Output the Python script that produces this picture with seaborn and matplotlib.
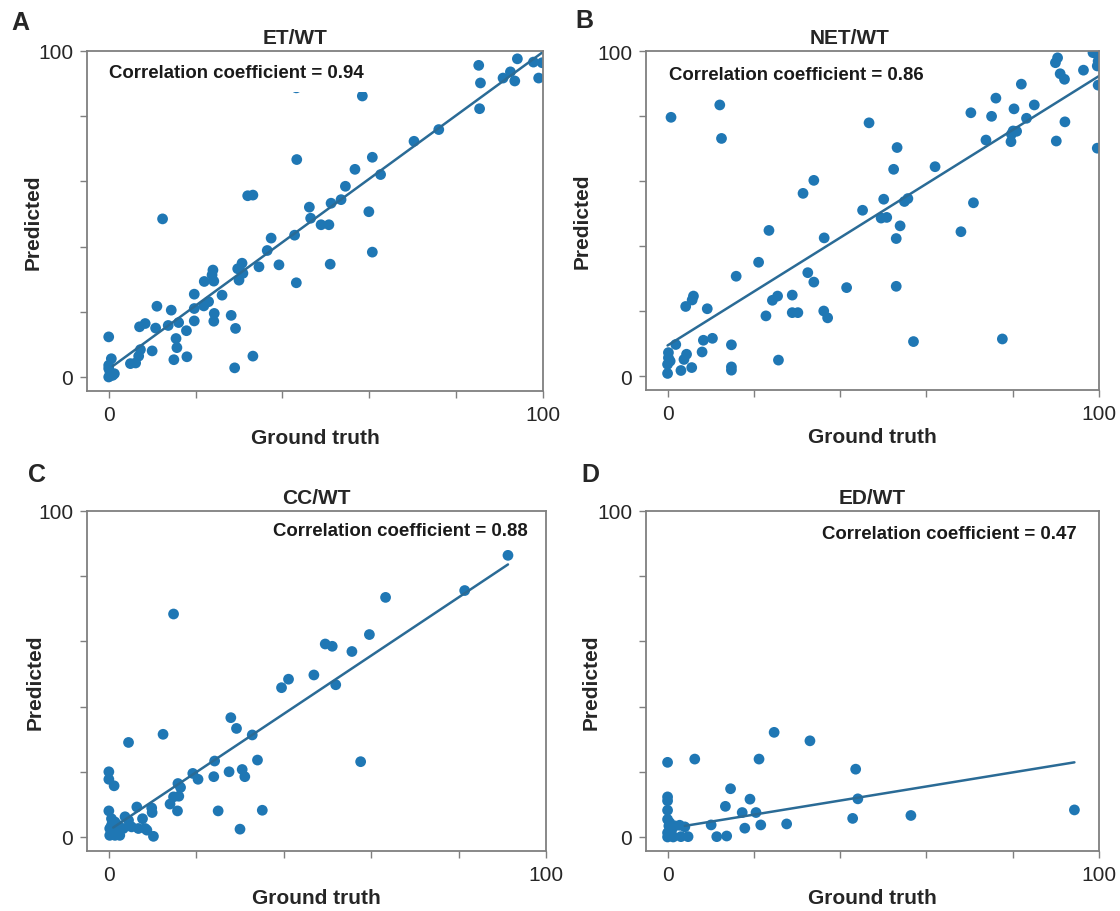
import seaborn as sns
import matplotlib.pyplot as plt

sns.set_style("white")
plt.rcParams['font.family'] = ['Liberation Sans', 'DejaVu Sans']

# panel A: ET/WT
et_truth = [85.2, 85.6, 85.4, 94.1, 92.5, 90.8, 93.5, 97.8, 99.8, 99.0, 43.2, 58.4, 76.0, 70.3,
            60.7, 43.3, 56.7, 62.6, 54.5, 53.5, 51.2, 59.9, 46.2, 46.5, 48.9, 50.7, 51.0, 60.7,
            42.8, 37.4, 36.5, 39.2, 34.6, 43.2, 32.0, 33.2, 12.4, 30.7, 29.7, 30.9, 30.0, 24.0,
            23.8, 24.2, 22.0, 26.1, 19.7, 19.7, 23.0, 21.9, 24.3, 24.2, 19.7, 28.2, 29.2, 29.0,
            33.2, 14.4, 11.1, 16.1, 13.7, 17.9, 15.5, 15.7, 15.0, 18.0, 10.8, 8.4, 7.1, 10.0,
            7.3, 6.9, 6.2, 5.0, 0.0, 0.6, 0.0, 0.3, 0.9, 0.0, 1.3, 0.0]
et_pred = [95.6, 90.2, 82.3, 97.6, 93.6, 91.7, 90.8, 96.6, 96.4, 91.7, 88.7, 86.2, 75.9, 72.3,
           67.4, 66.7, 63.7, 62.1, 58.5, 54.4, 53.3, 50.7, 52.1, 48.7, 46.7, 46.7, 34.6, 38.3,
           43.5, 42.6, 38.8, 34.4, 33.8, 28.9, 55.6, 55.8, 48.5, 34.9, 33.2, 31.8, 29.7, 32.8,
           31.3, 29.4, 29.3, 25.1, 25.4, 21.0, 23.1, 21.8, 19.5, 17.1, 17.2, 18.9, 14.9, 2.8,
           6.4, 20.5, 21.7, 16.7, 15.8, 14.2, 11.8, 9.0, 5.3, 6.2, 15.0, 16.4, 15.4, 8.0,
           8.4, 6.4, 4.3, 4.1, 12.3, 5.6, 3.6, 1.5, 0.5, 0.0, 1.0, 2.6]
et_fit_x = [0.9, 100.0]
et_fit_y = [3.3, 99.7]

# panel B: NET/WT
net_truth = [0.8, 12.1, 12.5, 46.7, 53.2, 52.4, 62.0, 33.9, 31.4, 50.1, 54.9, 55.7, 45.2, 49.5,
             50.8, 53.9, 53.0, 70.9, 68.0, 23.5, 36.3, 21.1, 15.9, 32.5, 33.9, 41.5, 53.0, 28.9,
             25.5, 24.3, 28.9, 30.2, 36.2, 37.1, 22.8, 6.0, 5.7, 4.2, 9.2, 10.4, 8.3, 8.0,
             1.9, 14.8, 4.4, 3.8, 5.6, 3.1, 14.8, 14.8, 25.7, 57.0, 77.6, 0.2, 0.2, 0.0,
             0.0, 0.6, 73.8, 70.3, 75.1, 76.1, 80.3, 82.0, 83.2, 85.0, 79.6, 79.7, 80.9, 80.1,
             90.1, 92.1, 89.9, 90.4, 91.0, 92.0, 96.4, 98.6, 99.6, 99.8, 99.6, 99.8, 99.6]
net_pred = [79.6, 83.4, 73.1, 77.9, 70.3, 63.6, 64.4, 60.2, 56.2, 54.4, 53.7, 54.6, 51.0, 48.6,
            48.8, 46.2, 42.3, 53.3, 44.4, 44.8, 42.5, 35.0, 30.7, 31.8, 28.9, 27.2, 27.6, 24.9,
            24.6, 23.3, 19.5, 19.5, 20.0, 17.9, 18.5, 24.6, 23.4, 21.4, 20.7, 11.6, 11.0, 7.4,
            9.7, 9.6, 6.7, 5.1, 2.6, 1.7, 2.8, 1.8, 4.9, 10.6, 11.4, 7.2, 5.6, 3.6,
            0.8, 4.6, 72.6, 81.0, 79.9, 85.5, 82.2, 89.8, 79.3, 83.4, 72.1, 74.4, 75.3, 75.4,
            72.3, 78.2, 96.4, 97.9, 93.0, 91.3, 94.1, 99.5, 99.0, 96.9, 95.4, 89.5, 70.1]
net_fit_x = [0.0, 100.0]
net_fit_y = [9.4, 92.3]

# panel C: CC/WT
cc_truth = [91.3, 81.4, 63.3, 59.6, 49.5, 51.1, 55.6, 46.9, 41.1, 39.5, 51.9, 14.8, 57.6, 27.9,
            29.2, 32.8, 12.4, 4.5, 34.0, 24.2, 27.5, 30.5, 31.1, 24.0, 20.4, 19.2, 15.8, 16.4,
            14.8, 16.0, 14.0, 15.7, 25.0, 35.1, 30.0, 0.0, 0.0, 1.2, 0.0, 6.4, 9.8, 9.9,
            7.7, 3.7, 4.5, 5.2, 6.75, 8.3, 10.2, 8.7, 0.6, 1.0, 0.2, 0.2, 1.8, 2.5,
            1.4, 2.1, 3.3, 0.6, 1.4]
cc_pred = [86.4, 75.6, 73.5, 62.1, 59.2, 58.5, 56.9, 49.7, 48.4, 45.8, 46.7, 68.4, 23.1, 36.6,
           33.3, 31.3, 31.5, 29.0, 23.6, 23.3, 20.0, 20.7, 18.5, 18.5, 17.7, 19.5, 16.4, 15.2,
           12.3, 12.5, 10.1, 8.0, 8.0, 8.2, 2.4, 20.0, 17.7, 15.7, 8.0, 9.2, 8.9, 7.5,
           5.6, 6.2, 5.1, 3.1, 2.6, 2.6, 0.2, 2.1, 5.6, 4.1, 2.6, 0.5, 2.1, 0.5,
           0.5, 3.6, 2.6, 3.6, 4.6]
cc_fit_x = [1.0, 91.3]
cc_fit_y = [2.9, 83.6]

# panel D: ED/WT
ed_truth = [24.7, 33.0, 0.0, 6.3, 21.2, 43.6, 14.6, 44.1, 0.0, 0.0, 0.0, 19.1, 13.4, 17.3,
            20.5, 21.6, 27.6, 17.9, 42.9, 56.4, 94.3, 10.1, 11.4, 13.7, 2.8, 4.0, 0.0, 0.3,
            0.0, 0.0, 1.3, 3.1, 4.75, 0.9, 0.5, 1.7]
ed_pred = [32.1, 29.5, 22.9, 23.9, 23.9, 20.8, 14.8, 11.7, 12.3, 11.1, 8.2, 11.6, 9.4, 7.5,
           7.5, 3.7, 4.0, 2.7, 5.7, 6.6, 8.3, 3.7, 0.1, 0.3, 3.6, 3.1, 5.4, 3.4,
           1.3, 0.0, 0.0, 0.1, 0.1, 1.8, 4.4, 3.4]
ed_fit_x = [4.0, 94.3]
ed_fit_y = [3.4, 22.9]

titles = ['ET/WT', 'NET/WT', 'CC/WT', 'ED/WT']
letters = ['A', 'B', 'C', 'D']
corr_labels = ['Correlation coefficient = 0.94', 'Correlation coefficient = 0.86',
               'Correlation coefficient = 0.88', 'Correlation coefficient = 0.47']
panels = [(et_truth, et_pred, et_fit_x, et_fit_y),
          (net_truth, net_pred, net_fit_x, net_fit_y),
          (cc_truth, cc_pred, cc_fit_x, cc_fit_y),
          (ed_truth, ed_pred, ed_fit_x, ed_fit_y)]

W, H = 1120, 912
fig = plt.figure(figsize=(11.2, 9.12), dpi=100)

# pixel boxes of the axes: left, top, right, bottom
boxes = [(87, 52, 543, 392), (646, 52, 1099, 391), (87, 512, 546, 852), (646, 512, 1099, 852)]
title_x = [0.456, 0.449, 0.5, 0.5]
ylabel_x = [-0.0965, -0.119, -0.0915, -0.0993]
text_pos = [(0.048, 0.938, 'left'), (0.05, 0.932, 'left'), (0.961, 0.944, 'right'), (0.95, 0.935, 'right')]
letter_pos = [(20, 23), (584, 21), (37, 475), (590, 475)]

dot_color = '#1f77b4'
line_color = '#2a6b96'
spine_color = '#7f7f7f'

for i, (truth, pred, fx, fy) in enumerate(panels):
    l, t, r, b = boxes[i]
    ax = fig.add_axes([l / W, 1 - b / H, (r - l) / W, (b - t) / H])
    sns.scatterplot(x=truth, y=pred, ax=ax, s=60, color=dot_color, edgecolor='none', zorder=2)
    sns.lineplot(x=fx, y=fy, ax=ax, color=line_color, lw=1.8, zorder=2.2)
    ax.set_xlim(-5, 100)
    ax.set_ylim(-4.3, 100)
    ax.set_xticks([0, 20, 40, 60, 80, 100])
    ax.set_xticklabels(['0', '', '', '', '', '100'])
    ax.set_yticks([0, 20, 40, 60, 80, 100])
    ax.set_yticklabels(['0', '', '', '', '', '100'])
    ax.tick_params(axis='both', direction='out', length=5, width=1, color=spine_color,
                   labelsize=15, pad=5, left=True, bottom=True)
    for s in ax.spines.values():
        s.set_color(spine_color)
        s.set_linewidth(1.3)
        s.set_zorder(3)
    ax.set_xlabel('Ground truth', fontsize=15, fontweight='bold', labelpad=3)
    ax.set_ylabel('Predicted', fontsize=15, fontweight='bold')
    ax.yaxis.set_label_coords(ylabel_x[i], 0.5)
    ax.set_title(titles[i], fontsize=15, fontweight='bold', x=title_x[i], pad=6)
    tx, ty, ha = text_pos[i]
    ax.text(tx, ty, corr_labels[i], transform=ax.transAxes, ha=ha, va='center',
            fontsize=13.4, fontweight='bold', color='#1a1a1a', zorder=2.5,
            bbox=dict(facecolor='white', edgecolor='none', boxstyle='square,pad=0.6'))
    lx, ly = letter_pos[i]
    fig.text(lx / W, 1 - ly / H, letters[i], fontsize=18, fontweight='bold',
             ha='center', va='center')

plt.savefig('out.png', dpi=100)
